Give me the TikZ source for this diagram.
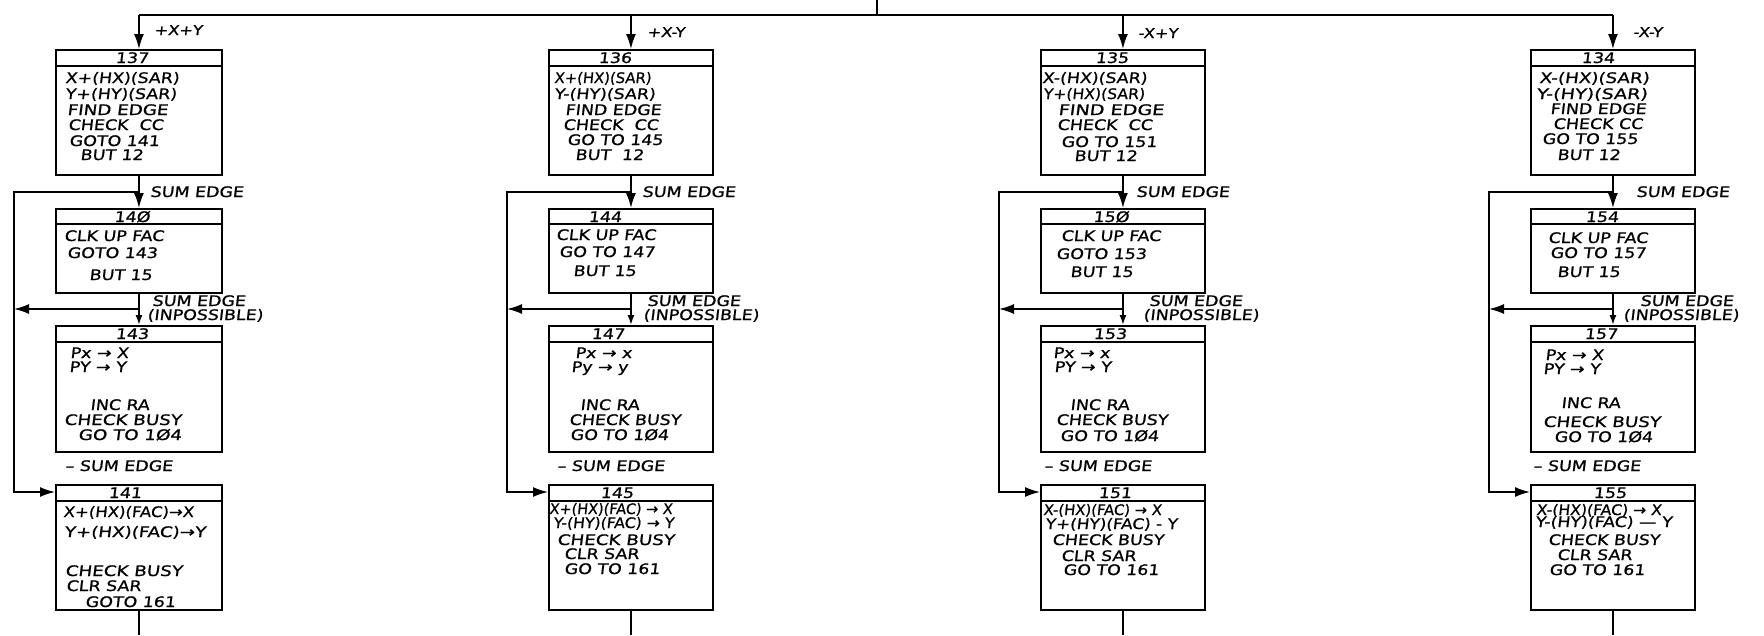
\documentclass[tikz,border=0pt]{standalone}
\usepackage{fontspec}
\usepackage{graphicx}
\newfontfamily\hand[FakeStretch=1.2,FakeSlant=0.12,FakeBold=0.8]{DejaVu Sans}
\usetikzlibrary{arrows.meta}
\begin{document}
\begin{tikzpicture}[x=1pt,y=-1pt,
  box/.style={draw, line width=1.9pt, anchor=north west, inner sep=0pt, minimum width=164pt},
  hdr/.style={line width=1.6pt},
  ln/.style={anchor=base west, inner sep=0pt, font=\hand\fontsize{14.5}{16}\selectfont},
  num/.style={anchor=base, inner sep=0pt, font=\hand\fontsize{14.5}{15}\selectfont},
  lbl/.style={anchor=base west, inner sep=0pt, font=\hand\fontsize{14.5}{15}\selectfont},
  toplbl/.style={anchor=base west, inner sep=0pt, font=\hand\fontsize{13.5}{14}\selectfont},
  wire/.style={line width=1.6pt},
  arr/.style={wire, -{Latex[length=15pt,width=10pt]}},
  arrs/.style={wire, -{Latex[length=10pt,width=7pt]}}]
\fill[white] (0,0) rectangle (1764,635);
\useasboundingbox (0,0) rectangle (1764,635);
% boxes
\foreach \c/\l/\w in {A/55/166, B/548/164, C/1040/164, D/1530/164} {
  \node[box, minimum width=\w pt, minimum height=125pt] (\c1) at (\l,49) {};
  \node[box, minimum width=\w pt, minimum height=84pt] (\c2) at (\l,208) {};
  \node[box, minimum width=\w pt, minimum height=126pt] (\c3) at (\l,325) {};
  \node[box, minimum width=\w pt, minimum height=125pt] (\c4) at (\l,484) {};
  \draw[hdr] ([yshift=-17pt]\c1.north west) -- ([yshift=-17pt]\c1.north east);
  \draw[hdr] ([yshift=-16pt]\c2.north west) -- ([yshift=-16pt]\c2.north east);
  \draw[hdr] ([yshift=-17pt]\c3.north west) -- ([yshift=-17pt]\c3.north east);
  \draw[hdr] ([yshift=-17pt]\c4.north west) -- ([yshift=-17pt]\c4.north east);
}
% reference coordinates
\coordinate (T) at (0,15);
\coordinate (E) at (0,492);
\coordinate (Br) at (0,309);
\coordinate (Bt) at (0,635);
\coordinate (Tin) at (877,0);
\draw[wire] (A1.north |- T) -- (D1.north |- T);
\draw[wire] (Tin) -- (Tin |- T);
% connectors
\foreach \c/\lx in {A/14, B/507, C/999, D/1489} {
  \coordinate (\c L) at (\lx,192);
  \draw[arr] (\c1.north |- T) -- (\c1.north);
  \draw[arr] (\c1.south) -- (\c2.north);
  \draw[arr] (\c1.south |- \c L) -- (\c L) |- (\c4.west |- E);
  \draw[arrs] (\c2.south) -- (\c3.north);
  \draw[arr] (\c2.south |- Br) -- (\c L |- Br);
  \draw[wire] (\c4.south) -- (\c4.south |- Bt);
}
% header numbers
\foreach \x/\y/\t [count=\i] in {
  132/63/137, 132/222/14Ø, 132/339/143, 125/498/141,
  615/63/136, 605/222/144, 608/339/147, 617/498/145,
  1112/63/135, 1111/222/15Ø, 1110/339/153, 1115/498/151,
  1598/63/134, 1602/222/154, 1601/339/157, 1610/498/155}
  \node[num] (h\i) at (\x,\y) {\t};
% top labels
\node[toplbl] (la1) at (154,35) {+X+Y};
\node[toplbl] (la2) at (647,37) {+X-Y};
\node[toplbl] (la3) at (1138,38) {-X+Y};
\node[toplbl] (la4) at (1633,37) {-X-Y};
% edge labels
\foreach \x/\y/\t [count=\i] in {
  150/197/SUM EDGE, 642/197/SUM EDGE, 1136/197/SUM EDGE, 1636/197/SUM EDGE,
  152/306/SUM EDGE, 647/306/SUM EDGE, 1149/306/SUM EDGE, 1640/306/SUM EDGE,
  147/320/(INPOSSIBLE), 643/320/(INPOSSIBLE), 1143/320/(INPOSSIBLE), 1623/320/(INPOSSIBLE),
  65/471/– SUM EDGE, 557/471/– SUM EDGE, 1044/471/– SUM EDGE, 1533/471/– SUM EDGE}
  \node[lbl] (e\i) at (\x,\y) {\t};
% box texts
\foreach \x/\y/\s/\t [count=\i] in {
  65/83/1/X+(HX)(SAR), 65/99/1/Y+(HY)(SAR), 67/115/1.05/FIND EDGE, 68/130/1/CHECK\ \ CC,
  69/146/1/GOTO 141, 80/160/1/BUT 12,
  64/241/1/CLK UP FAC, 67/258/1/GOTO 143, 89/280/1/BUT 15,
  70/358/1/Px → X, 69/372/1/PY → Y, 90/410/1/INC RA, 64/425/1.05/CHECK BUSY, 78/440/1.05/GO TO 1Ø4,
  63/517/.95/X+(HX)(FAC)→X, 64/537/1.05/Y+(HX)(FAC)→Y, 65/576/1.05/CHECK BUSY, 66/591/1/CLR SAR, 85/607/1/GOTO 161,
  554/83/.85/X+(HX)(SAR), 554/99/1/Y-(HY)(SAR), 565/115/1/FIND EDGE, 563/130/1/CHECK\ \ CC,
  567/145/1/GO TO 145, 575/160/1/BUT\ \ 12,
  556/240/1/CLK UP FAC, 559/257/1/GO TO 147, 573/276/1/BUT 15,
  575/358/1/Px → x, 571/372/1/Py → y, 580/410/1/INC RA, 569/425/1/CHECK BUSY, 570/440/1/GO TO 1Ø4,
  549/514/.83/X+(HX)(FAC) → X, 553/528/.9/Y-(HY)(FAC) → Y, 557/545/1.05/CHECK BUSY, 564/559/1/CLR SAR, 564/574/1/GO TO 161,
  1042/83/1/X-(HX)(SAR), 1043/99/.9/Y+(HX)(SAR), 1058/115/1.1/FIND EDGE, 1057/130/1/CHECK\ \ CC,
  1061/147/1/GO TO 151, 1074/161/1/BUT 12,
  1061/241/1/CLK UP FAC, 1056/259/1/GOTO 153, 1070/277/1/BUT 15,
  1053/358/1/Px → x, 1054/372/1/PY → Y, 1070/410/1/INC RA, 1056/425/1/CHECK BUSY, 1060/441/1/GO TO 1Ø4,
  1043/515/.85/X-(HX)(FAC) → X, 1045/529/.97/Y+(HY)(FAC) - Y, 1052/545/1/CHECK BUSY, 1061/561/1/CLR SAR, 1063/575/1/GO TO 161,
  1539/83/1.05/X-(HX)(SAR), 1536/99/1.1/Y-(HY)(SAR), 1550/114/1/FIND EDGE, 1553/129/1/CHECK CC,
  1542/144/1/GO TO 155, 1557/160/1/BUT 12,
  1548/243/1/CLK UP FAC, 1550/258/1/GO TO 157, 1557/277/1/BUT 15,
  1545/360/1/Px → X, 1543/374/1/PY → Y, 1561/408/1/INC RA, 1543/427/1.05/CHECK BUSY, 1554/442/1/GO TO 1Ø4,
  1536/515/.9/X-(HX)(FAC) → X, 1535/527/1/Y-(HY)(FAC) — Y, 1548/545/1/CHECK BUSY, 1557/560/1/CLR SAR, 1549/575/1/GO TO 161}
  \node[ln] (t\i) at (\x,\y) {\scalebox{\s}[1]{\t}};
\end{tikzpicture}
\end{document}
